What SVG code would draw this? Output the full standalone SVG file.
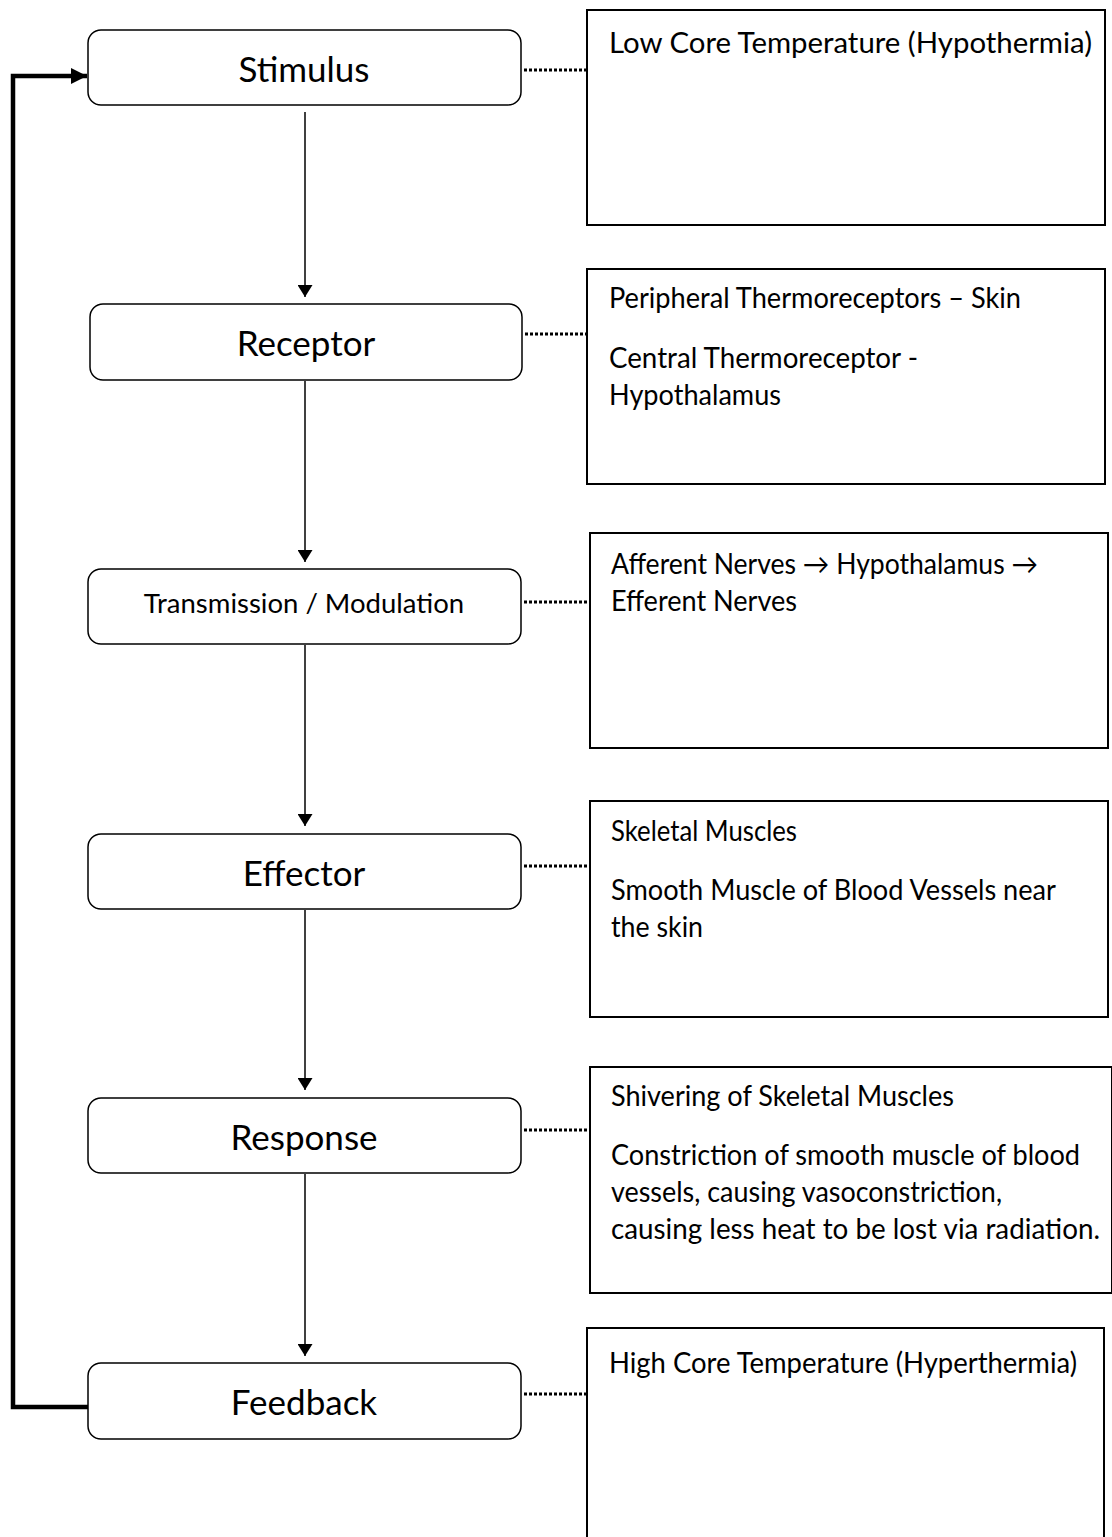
<svg xmlns="http://www.w3.org/2000/svg" width="1112" height="1537" viewBox="0 0 1112 1537">
  <defs>
    <marker id="arrow" viewBox="0 0 12 15" refX="12" refY="7.5" markerWidth="12" markerHeight="15" markerUnits="userSpaceOnUse" orient="auto">
      <path d="M0,0 L12,7.5 L0,15 Z" fill="#000"/>
    </marker>
    <marker id="arrow-bold" viewBox="0 0 16 16" refX="16" refY="8" markerWidth="16" markerHeight="16" markerUnits="userSpaceOnUse" orient="auto">
      <path d="M0,0 L16,8 L0,16 Z" fill="#000"/>
    </marker>
  </defs>
  <style>
    .step { fill: #fff; stroke: #000; stroke-width: 1.5; }
    .panel { fill: #fff; stroke: #000; stroke-width: 2; }
    .label { font-family: Lato, "Open Sans", "Liberation Sans", sans-serif; fill: #000; text-anchor: middle; dominant-baseline: central; }
    .big { font-size: 35px; }
    .small { font-size: 27.5px; }
    .note { font-family: Lato, "Open Sans", "Liberation Sans", sans-serif; font-size: 28px; fill: #000; }
    .flow { stroke: #000; stroke-width: 1.5; fill: none; marker-end: url(#arrow); }
    .loop { stroke: #000; stroke-width: 4.5; fill: none; marker-end: url(#arrow-bold); }
    .dots { stroke: #000; stroke-width: 3; stroke-dasharray: 3 2; fill: none; }
  </style>

  <rect width="1112" height="1537" fill="#fff"/>

  <!-- Connectors -->
  <g id="connectors">
    <line class="flow" x1="305" y1="112" x2="305" y2="297"/>
    <line class="flow" x1="305" y1="381" x2="305" y2="562"/>
    <line class="flow" x1="305" y1="645" x2="305" y2="826"/>
    <line class="flow" x1="305" y1="910" x2="305" y2="1090"/>
    <line class="flow" x1="305" y1="1174" x2="305" y2="1356"/>
    <polyline class="loop" points="88,1407 13,1407 13,76 87,76"/>
    <line class="dots" x1="524" y1="70" x2="587" y2="70"/>
    <line class="dots" x1="525" y1="334" x2="587" y2="334"/>
    <line class="dots" x1="524" y1="602" x2="590" y2="602"/>
    <line class="dots" x1="524" y1="866" x2="590" y2="866"/>
    <line class="dots" x1="524" y1="1130" x2="590" y2="1130"/>
    <line class="dots" x1="524" y1="1394" x2="587" y2="1394"/>
  </g>

  <!-- Process steps -->
  <g id="stimulus">
    <rect class="step" x="88" y="30" width="433" height="75" rx="13"/>
    <text class="label big" x="304" y="68">Stimulus</text>
  </g>
  <g id="receptor">
    <rect class="step" x="90" y="304" width="432" height="76" rx="13"/>
    <text class="label big" x="306" y="342">Receptor</text>
  </g>
  <g id="transmission">
    <rect class="step" x="88" y="569" width="433" height="75" rx="13"/>
    <text class="label small" x="304" y="602">Transmission / Modulation</text>
  </g>
  <g id="effector">
    <rect class="step" x="88" y="834" width="433" height="75" rx="13"/>
    <text class="label big" x="304" y="872">Effector</text>
  </g>
  <g id="response">
    <rect class="step" x="88" y="1098" width="433" height="75" rx="13"/>
    <text class="label big" x="304" y="1136">Response</text>
  </g>
  <g id="feedback">
    <rect class="step" x="88" y="1363" width="433" height="76" rx="13"/>
    <text class="label big" x="304" y="1401">Feedback</text>
  </g>

  <!-- Detail panels -->
  <g id="stimulus-detail">
    <rect class="panel" x="587" y="10" width="518" height="215"/>
    <text class="note" x="609" y="53" textLength="483" lengthAdjust="spacingAndGlyphs">Low Core Temperature (Hypothermia)</text>
  </g>
  <g id="receptor-detail">
    <rect class="panel" x="587" y="269" width="518" height="215"/>
    <text class="note" x="609" y="308" textLength="412" lengthAdjust="spacingAndGlyphs">Peripheral Thermoreceptors – Skin</text>
    <text class="note" x="609" y="368" textLength="309" lengthAdjust="spacingAndGlyphs">Central Thermoreceptor -</text>
    <text class="note" x="609" y="405" textLength="172" lengthAdjust="spacingAndGlyphs">Hypothalamus</text>
  </g>
  <g id="transmission-detail">
    <rect class="panel" x="590" y="533" width="518" height="215"/>
    <text class="note" x="611" y="574" textLength="427" lengthAdjust="spacingAndGlyphs">Afferent Nerves → Hypothalamus →</text>
    <text class="note" x="611" y="611" textLength="186" lengthAdjust="spacingAndGlyphs">Efferent Nerves</text>
  </g>
  <g id="effector-detail">
    <rect class="panel" x="590" y="801" width="518" height="216"/>
    <text class="note" x="611" y="841" textLength="186" lengthAdjust="spacingAndGlyphs">Skeletal Muscles</text>
    <text class="note" x="611" y="900" textLength="445" lengthAdjust="spacingAndGlyphs">Smooth Muscle of Blood Vessels near</text>
    <text class="note" x="611" y="937" textLength="92" lengthAdjust="spacingAndGlyphs">the skin</text>
  </g>
  <g id="response-detail">
    <rect class="panel" x="590" y="1067" width="522" height="226"/>
    <text class="note" x="611" y="1106" textLength="343" lengthAdjust="spacingAndGlyphs">Shivering of Skeletal Muscles</text>
    <text class="note" x="611" y="1165" textLength="469" lengthAdjust="spacingAndGlyphs">Constriction of smooth muscle of blood</text>
    <text class="note" x="611" y="1202" textLength="391" lengthAdjust="spacingAndGlyphs">vessels, causing vasoconstriction,</text>
    <text class="note" x="611" y="1239" textLength="489" lengthAdjust="spacingAndGlyphs">causing less heat to be lost via radiation.</text>
  </g>
  <g id="feedback-detail">
    <rect class="panel" x="587" y="1328" width="517" height="230"/>
    <text class="note" x="609" y="1373" textLength="468" lengthAdjust="spacingAndGlyphs">High Core Temperature (Hyperthermia)</text>
  </g>
</svg>
